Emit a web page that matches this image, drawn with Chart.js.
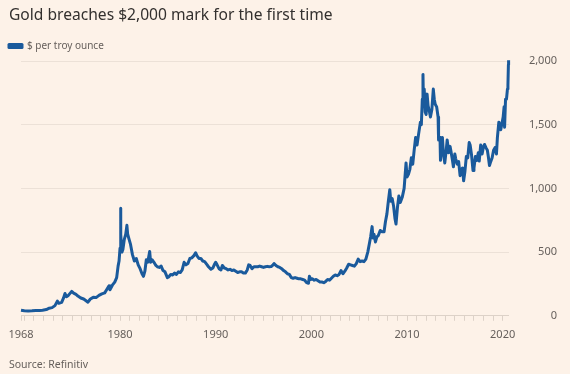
<!DOCTYPE html>
<html lang="en">
<head>
    <meta charset="UTF-8">
    <title>Gold price</title>
    <script src="https://cdn.jsdelivr.net/npm/chart.js"></script>
    <style>
        body {
            margin: 0;
            background-color: #fdf2e8;
        }
        .wrap {
            position: relative;
            width: 570px;
            height: 374px;
        }
        .title {
            position: absolute;
            left: 9px;
            top: 3px;
            font-family: 'Noto Sans', sans-serif;
            font-size: 15.6px;
            line-height: 22px;
            color: #33302e;
            white-space: nowrap;
        }
        .source {
            position: absolute;
            left: 9px;
            top: 357px;
            font-family: 'Noto Sans', sans-serif;
            font-size: 10.5px;
            line-height: 14px;
            color: #66605c;
        }
        canvas {
            position: absolute;
            left: 0;
            top: 0;
        }
    </style>
</head>
<body>
    <div class="wrap">
        <canvas id="goldChart" width="570" height="374"></canvas>
        <div class="title">Gold breaches $2,000 mark for the first time</div>
        <div class="source">Source: Refinitiv</div>
    </div>

    <script>
        // values (decimal year, $ per troy ounce)
        const years = [
            1969.65, 1970.0, 1970.4, 1970.8, 1971.2, 1971.6, 1971.9, 1972.3, 1972.6, 1972.9,
            1973.2, 1973.45, 1973.6, 1973.9, 1974.1, 1974.25, 1974.4, 1974.6, 1974.95, 1975.15,
            1975.4, 1975.6, 1975.9, 1976.2, 1976.45, 1976.65, 1976.9, 1977.2, 1977.5, 1977.8,
            1978.1, 1978.4, 1978.6, 1978.85, 1978.95, 1979.2, 1979.45, 1979.65, 1979.8, 1979.9,
            1980.0, 1980.05, 1980.1, 1980.2, 1980.3, 1980.45, 1980.6, 1980.72, 1980.8, 1980.95,
            1981.1, 1981.3, 1981.5, 1981.7, 1981.9, 1982.1, 1982.3, 1982.45, 1982.6, 1982.75,
            1982.9, 1983.1, 1983.2, 1983.35, 1983.55, 1983.75, 1983.9, 1984.1, 1984.3, 1984.5,
            1984.7, 1984.95, 1985.1, 1985.3, 1985.5, 1985.7, 1985.9, 1986.1, 1986.3, 1986.5,
            1986.7, 1986.9, 1987.1, 1987.3, 1987.5, 1987.7, 1987.9, 1988.05, 1988.25, 1988.45,
            1988.65, 1988.85, 1989.05, 1989.25, 1989.5, 1989.7, 1989.85, 1990.0, 1990.15, 1990.35,
            1990.55, 1990.7, 1990.9, 1991.1, 1991.3, 1991.5, 1991.7, 1991.9, 1992.1, 1992.3,
            1992.5, 1992.7, 1992.9, 1993.1, 1993.3, 1993.45, 1993.6, 1993.8, 1994.0, 1994.2,
            1994.4, 1994.6, 1994.8, 1995.0, 1995.2, 1995.4, 1995.6, 1995.8, 1996.0, 1996.1,
            1996.3, 1996.5, 1996.7, 1996.9, 1997.1, 1997.3, 1997.5, 1997.7, 1997.9, 1998.1,
            1998.3, 1998.5, 1998.7, 1998.9, 1999.1, 1999.3, 1999.5, 1999.7, 1999.8, 1999.95,
            2000.1, 2000.3, 2000.5, 2000.7, 2000.9, 2001.1, 2001.3, 2001.5, 2001.7, 2001.9,
            2002.1, 2002.3, 2002.5, 2002.7, 2002.9, 2003.1, 2003.3, 2003.5, 2003.7, 2003.9,
            2004.1, 2004.3, 2004.5, 2004.7, 2004.9, 2005.1, 2005.3, 2005.5, 2005.7, 2005.9,
            2006.05, 2006.2, 2006.35, 2006.45, 2006.55, 2006.7, 2006.85, 2007.0, 2007.2, 2007.4,
            2007.6, 2007.75, 2007.9, 2008.05, 2008.2, 2008.3, 2008.45, 2008.6, 2008.75, 2008.85,
            2009.0, 2009.15, 2009.3, 2009.5, 2009.7, 2009.9, 2010.0, 2010.15, 2010.3, 2010.45,
            2010.6, 2010.75, 2010.9, 2011.05, 2011.2, 2011.4, 2011.5, 2011.6, 2011.67, 2011.72,
            2011.8, 2011.9, 2012.0, 2012.1, 2012.2, 2012.35, 2012.45, 2012.6, 2012.75, 2012.85,
            2012.95, 2013.1, 2013.25, 2013.3, 2013.45, 2013.5, 2013.6, 2013.7, 2013.8, 2013.95,
            2014.1, 2014.2, 2014.35, 2014.5, 2014.6, 2014.75, 2014.85, 2015.0, 2015.1, 2015.25,
            2015.4, 2015.55, 2015.7, 2015.8, 2015.92, 2016.05, 2016.2, 2016.35, 2016.5, 2016.6,
            2016.75, 2016.9, 2017.0, 2017.15, 2017.3, 2017.45, 2017.55, 2017.7, 2017.85, 2018.0,
            2018.1, 2018.25, 2018.4, 2018.5, 2018.62, 2018.75, 2018.9, 2019.05, 2019.2, 2019.35,
            2019.45, 2019.6, 2019.7, 2019.8, 2019.95, 2020.05, 2020.15, 2020.2, 2020.3, 2020.4,
            2020.5, 2020.55, 2020.6, 2020.62
        ];
        const prices = [
            44, 40, 38, 39, 41, 42, 44, 49, 60, 64,
            80, 115, 98, 105, 140, 175, 150, 160, 192, 178,
            168, 155, 140, 132, 118, 107, 132, 145, 143, 160,
            172, 180, 205, 235, 205, 240, 265, 300, 390, 430,
            530, 845, 640, 500, 520, 600, 640, 710, 640, 600,
            560, 480, 430, 450, 400, 370, 330, 310, 350, 440,
            420, 505, 420, 440, 420, 395, 385, 380, 390, 355,
            345, 300, 305, 325, 320, 335, 325, 345, 340, 360,
            420, 400, 410, 450, 455, 470, 495, 470, 450, 450,
            430, 425, 405, 385, 365, 375, 400, 420, 400, 370,
            360, 395, 375, 370, 360, 365, 355, 360, 350, 340,
            345, 345, 335, 335, 360, 400, 395, 370, 385, 385,
            385, 390, 385, 380, 385, 388, 385, 386, 400, 410,
            395, 385, 380, 370, 355, 345, 330, 325, 300, 295,
            300, 295, 290, 290, 285, 280, 260, 255, 310, 285,
            290, 280, 285, 275, 265, 265, 260, 270, 285, 280,
            295, 310, 320, 315, 325, 355, 330, 350, 375, 405,
            400, 395, 390, 410, 445, 425, 430, 425, 445, 500,
            560, 620, 700, 610, 640, 580, 620, 630, 670, 660,
            660, 740, 800, 900, 990, 900, 920, 860, 760, 720,
            850, 940, 890, 930, 1000, 1200, 1090, 1110, 1150, 1240,
            1190, 1300, 1400, 1340, 1420, 1520, 1500, 1700, 1895, 1650,
            1780, 1600, 1580, 1740, 1650, 1600, 1560, 1620, 1780, 1700,
            1660, 1640, 1560, 1380, 1400, 1220, 1320, 1400, 1280, 1200,
            1300, 1380, 1280, 1330, 1290, 1220, 1170, 1270, 1230, 1190,
            1210, 1100, 1150, 1160, 1060, 1130, 1250, 1240, 1360, 1340,
            1260, 1140, 1160, 1250, 1220, 1280, 1215, 1340, 1270, 1330,
            1345, 1320, 1300, 1250, 1180, 1210, 1240, 1300, 1320, 1270,
            1400, 1520, 1500, 1460, 1520, 1560, 1640, 1480, 1700, 1700,
            1780, 1810, 1970, 2005
        ];
        const xTickValues = [1969.65, 1980, 1990, 2000, 2010, 2020];
        const xTickLabels = ['1968', '1980', '1990', '2000', '2010', '2020'];
        const yTickValues = [0, 500, 1000, 1500, 2000];
        const seriesLabel = '$ per troy ounce';

        const textGrey = '#66605c';
        const lineBlue = '#1a5a9c';
        const axisFont = { family: 'Noto Sans', size: 11 };

        const points = years.map((y, i) => ({ x: y, y: prices[i] }));

        new Chart(document.getElementById('goldChart'), {
            type: 'line',
            data: {
                datasets: [{
                    label: seriesLabel,
                    data: points,
                    borderColor: lineBlue,
                    backgroundColor: lineBlue,
                    borderWidth: 3,
                    borderJoinStyle: 'round',
                    pointRadius: 0,
                    tension: 0,
                    clip: false
                }]
            },
            options: {
                responsive: false,
                animation: false,
                layout: {
                    padding: { top: 32, left: 0, right: 13, bottom: 26 }
                },
                plugins: {
                    legend: {
                        display: true,
                        align: 'start',
                        labels: {
                            boxWidth: 13,
                            boxHeight: 3,
                            padding: 9,
                            color: textGrey,
                            font: { family: 'Noto Sans', size: 10 }
                        }
                    },
                    tooltip: { enabled: false }
                },
                scales: {
                    x: {
                        type: 'linear',
                        min: 1969.65,
                        max: 2020.65,
                        grid: {
                            drawOnChartArea: false,
                            drawTicks: true,
                            tickLength: 5,
                            color: '#ddd2c8'
                        },
                        border: { display: true, color: '#ddd2c8' },
                        afterBuildTicks: scale => {
                            const t = [{ value: xTickValues[0] }];
                            for (let yr = 1970; yr <= 2020; yr++) t.push({ value: yr });
                            scale.ticks = t;
                        },
                        ticks: {
                            autoSkip: false,
                            maxRotation: 0,
                            padding: 7,
                            color: textGrey,
                            font: axisFont,
                            callback: v => {
                                const i = xTickValues.indexOf(v);
                                return i >= 0 ? xTickLabels[i] : '';
                            }
                        }
                    },
                    y: {
                        position: 'right',
                        min: 0,
                        max: 2000,
                        afterBuildTicks: scale => {
                            scale.ticks = yTickValues.map(v => ({ value: v }));
                        },
                        grid: {
                            color: '#ece1d7',
                            drawTicks: false
                        },
                        border: { display: false },
                        ticks: {
                            padding: 10,
                            crossAlign: 'far',
                            color: textGrey,
                            font: axisFont,
                            callback: v => v.toLocaleString('en-US')
                        }
                    },
                    // empty left gutter so the plot starts where the reference does
                    gutter: {
                        position: 'left',
                        display: true,
                        grid: { display: false },
                        border: { display: false },
                        ticks: { display: false },
                        afterFit: scale => { scale.width = 21; }
                    }
                }
            }
        });
    </script>
</body>
</html>
